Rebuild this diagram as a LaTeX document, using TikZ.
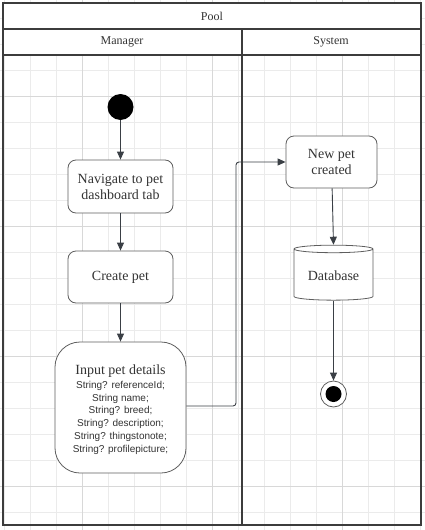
\documentclass[tikz,border=0pt]{standalone}
\usepackage{fontspec}
\setmainfont{Liberation Serif}
\newfontfamily\sansfont{Liberation Sans}
\usetikzlibrary{arrows.meta,shapes.geometric}
\definecolor{gridc}{HTML}{EBEBEB}
\definecolor{gridd}{HTML}{D8D8D8}
\definecolor{linec}{HTML}{3A3F45}
\definecolor{boxc}{HTML}{5E5E5E}
\definecolor{framec}{HTML}{3C3C3C}
\definecolor{txt}{HTML}{333333}
\newcommand\detailfont{\sansfont\fontsize{10}{12.8}\selectfont}
\begin{document}
\begin{tikzpicture}[x=1pt,y=-1pt,
  box/.style={draw=boxc, line width=0.8pt, fill=white, rounded corners=8pt, align=center,
    text=txt, font=\fontsize{14}{16}\selectfont, inner sep=2pt},
  flow/.style={draw=linec, line width=0.9pt, -{Triangle[length=8pt,width=7pt]}},
  frame/.style={draw=framec, line width=1.1pt},
  hdr/.style={text=txt, font=\fontsize{12}{14}\selectfont}]
\useasboundingbox (0,0) rectangle (425,530);
% grid
\foreach \k in {0,...,16} {\draw[gridc, line width=0.6pt] ({4+26*\k},0) -- ({4+26*\k},530);}
\foreach \k in {0,...,19} {\draw[gridc, line width=0.6pt] (0,{18+26*\k}) -- (425,{18+26*\k});}
\foreach \xx in {82,212,342} {\draw[gridd, line width=0.6pt] (\xx,0) -- (\xx,530);}
\foreach \yy in {96,226,356,486} {\draw[gridd, line width=0.6pt] (0,\yy) -- (425,\yy);}
% pool frame
\fill[white] (3,3) rectangle (421,55);
\draw[frame] (3,3) rectangle (421,525);
\draw[frame] (3,29) -- (421,29);
\draw[frame] (3,55) -- (421,55);
\draw[frame] (242,29) -- (242,525);
\node[hdr] (pool) at (212,16) {Pool};
\node[hdr] (mgr) at (122,42) {Manager};
\node[hdr] (sys) at (331,42) {System};
% nodes
\node[circle, fill=black, minimum size=26pt, inner sep=0pt] (start) at (120.5,107) {};
\node[box, minimum width=105pt, minimum height=53pt] (nav) at (120.5,186.5) {Navigate to pet\\dashboard tab};
\node[box, minimum width=105pt, minimum height=52pt] (create) at (120.5,277) {Create pet};
\node[box, rounded corners=25pt, minimum width=131pt, minimum height=131pt] (input) at (120.5,407.5)
  {\parbox{125pt}{\vspace*{4pt}\centering\fontsize{14}{16}\selectfont Input pet details\par\vspace{1pt}
   \detailfont String? referenceId;\\ String name;\\ String? breed;\\ String? description;\\ String? thingstonote;\\ String? profilepicture;\par}};
\node[box, minimum width=91pt, minimum height=52pt] (newpet) at (331.5,162) {New pet\\created};
\node[cylinder, shape border rotate=90, aspect=0.13, draw=boxc, line width=0.8pt, fill=white,
  minimum width=79pt, minimum height=55pt, text=txt, font=\fontsize{14}{16}\selectfont] (db) at (333.5,275.5) {\raisebox{-7pt}{Database}};
\node[circle, draw=boxc, line width=0.8pt, fill=white, minimum size=26pt, inner sep=0pt] (finish) at (333.5,394) {};
\fill[black] (finish.center) circle (8pt);
% connectors
\draw[flow] (start) -- (nav);
\draw[flow] (nav) -- (create);
\draw[flow] (create) -- (input);
\draw[flow, rounded corners=3pt] (input.east |- 0,406) -- (236,406) -- (236,162) -- (newpet.west);
\draw[flow] (newpet) -- (db.top);
\draw[flow] (db.bottom) -- (finish);
\end{tikzpicture}
\end{document}
